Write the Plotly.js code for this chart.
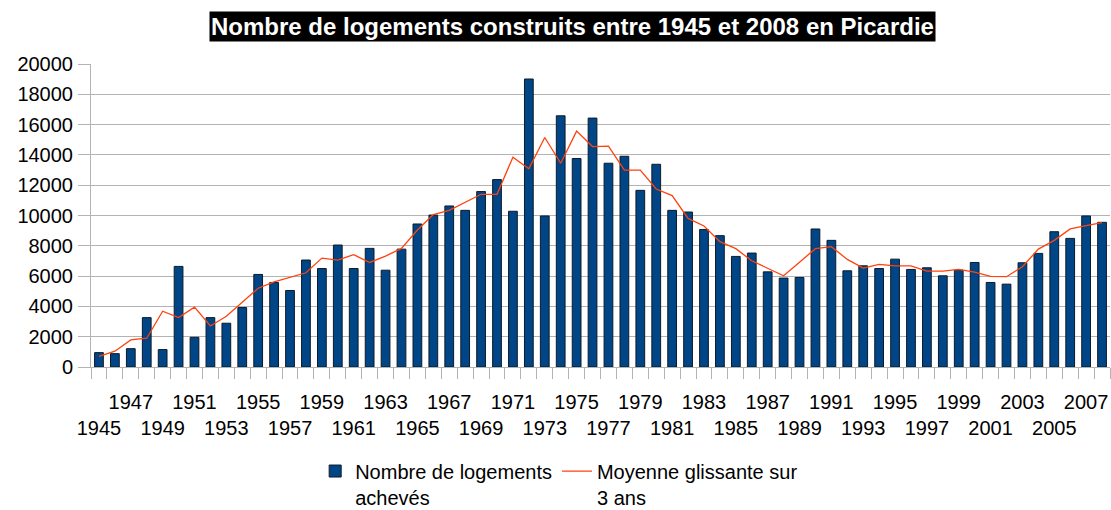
<!DOCTYPE html>
<html>
<head>
<meta charset="utf-8">
<script src="https://cdn.plot.ly/plotly-3.0.1.min.js"></script>
<style>
  html, body { margin: 0; padding: 0; background: #ffffff; }
  #chart { width: 1111px; height: 510px; }
</style>
</head>
<body>
<div id="chart"></div>
<script>
const years = [
  1945, 1946, 1947, 1948, 1949, 1950, 1951, 1952, 1953, 1954,
  1955, 1956, 1957, 1958, 1959, 1960, 1961, 1962, 1963, 1964,
  1965, 1966, 1967, 1968, 1969, 1970, 1971, 1972, 1973, 1974,
  1975, 1976, 1977, 1978, 1979, 1980, 1981, 1982, 1983, 1984,
  1985, 1986, 1987, 1988, 1989, 1990, 1991, 1992, 1993, 1994,
  1995, 1996, 1997, 1998, 1999, 2000, 2001, 2002, 2003, 2004,
  2005, 2006, 2007, 2008
];

const logementsAcheves = [
  950, 880, 1210, 3260, 1150, 6640, 1960, 3260, 2890, 3925,
  6110, 5580, 5050, 7060, 6500, 8050, 6500, 7830, 6390, 7780,
  9440, 10030, 10630, 10340, 11580, 12370, 10280, 19010, 9970, 16580,
  13760, 16430, 13450, 13910, 11660, 13380, 10340, 10230, 9080, 8670,
  7300, 7520, 6280, 5870, 5910, 9110, 8360, 6350, 6680, 6500,
  7120, 6440, 6550, 6020, 6390, 6900, 5580, 5470, 6880, 7500,
  8930, 8490, 9970, 9550
];

const moyenneGlissante = [
  700, 1040, 1790, 1900, 3680, 3260, 3950, 2710, 3350, 4260,
  5200, 5620, 5930, 6220, 7190, 7050, 7420, 6900, 7320, 7830,
  9040, 10060, 10340, 10850, 11400, 11400, 13850, 13080, 15150, 13450,
  15570, 14550, 14580, 12990, 12990, 11750, 11310, 9810, 9310, 8270,
  7810, 7010, 6530, 6020, 6920, 7810, 7940, 7100, 6530, 6770,
  6680, 6680, 6330, 6330, 6440, 6260, 5980, 5960, 6620, 7780,
  8360, 9110, 9330, 9530
];

// Tick labels: odd years, alternating on two rows
const upperRowLabels = [1947, 1951, 1955, 1959, 1963, 1967, 1971, 1975, 1979, 1983, 1987, 1991, 1995, 1999, 2003, 2007];
const lowerRowLabels = [1945, 1949, 1953, 1957, 1961, 1965, 1969, 1973, 1977, 1981, 1985, 1989, 1993, 1997, 2001, 2005];

const yTickVals = [0, 2000, 4000, 6000, 8000, 10000, 12000, 14000, 16000, 18000, 20000];

const titleText = 'Nombre de logements construits entre 1945 et 2008 en Picardie';
const barName = 'Nombre de logements<br>achevés';
const lineName = 'Moyenne glissante sur<br>3 ans';

const cats = years.map(String);
const tickText = years.map(y => {
  if (upperRowLabels.indexOf(y) >= 0) return String(y);
  if (lowerRowLabels.indexOf(y) >= 0) return '<br>' + y;
  return '';
});

const FONT = 'Liberation Sans, Arial, sans-serif';
const GRID = '#b3b3b3';

const traces = [
  {
    type: 'bar',
    name: barName,
    x: cats,
    y: logementsAcheves,
    marker: { color: '#004586', line: { color: '#0d1b2a', width: 1 } },
    hoverinfo: 'x+y'
  },
  {
    type: 'scatter',
    mode: 'lines',
    name: lineName,
    x: cats,
    y: moyenneGlissante,
    line: { color: '#ff420e', width: 1.3 },
    hoverinfo: 'x+y'
  }
];

const layout = {
  width: 1111,
  height: 510,
  margin: { l: 91, r: 1, t: 64, b: 143, autoexpand: false },
  paper_bgcolor: '#ffffff',
  plot_bgcolor: '#ffffff',
  font: { family: FONT, size: 20, color: '#000000' },
  bargap: 0.45,
  showlegend: true,
  xaxis: {
    type: 'category',
    categoryorder: 'array',
    categoryarray: cats,
    tickmode: 'array',
    tickvals: cats,
    ticktext: tickText,
    tickson: 'boundaries',
    ticks: 'outside',
    ticklen: 11,
    tickcolor: GRID,
    tickwidth: 1,
    showgrid: false,
    showline: true,
    linecolor: GRID,
    linewidth: 1,
    tickangle: 0,
    automargin: false,
    ticklabelstandoff: 17,
    tickfont: { family: FONT, size: 20, color: '#000000' },
    fixedrange: true
  },
  yaxis: {
    range: [0, 20000],
    tickmode: 'array',
    tickvals: yTickVals,
    ticktext: yTickVals.map(String),
    ticks: 'outside',
    ticklen: 12,
    tickcolor: GRID,
    tickwidth: 1,
    showgrid: true,
    gridcolor: GRID,
    gridwidth: 1,
    zeroline: false,
    showline: true,
    linecolor: GRID,
    linewidth: 1,
    automargin: false,
    ticklabelstandoff: 1,
    tickfont: { family: FONT, size: 20, color: '#000000' },
    fixedrange: true
  },
  legend: {
    orientation: 'h',
    x: 0.22,
    xanchor: 'left',
    y: -0.279,
    yanchor: 'top',
    valign: 'top',
    font: { family: FONT, size: 20, color: '#000000' },
    bgcolor: 'rgba(0,0,0,0)',
    itemclick: false,
    itemdoubleclick: false
  },
  annotations: [
    {
      text: '<b>' + titleText + '</b>',
      xref: 'paper',
      yref: 'paper',
      x: (572 - 91) / 1019,
      y: 1 + (64 - 26) / 303,
      xanchor: 'center',
      yanchor: 'middle',
      showarrow: false,
      bgcolor: '#000000',
      borderpad: 1,
      font: { family: FONT, size: 24, color: '#ffffff' }
    }
  ]
};

Plotly.newPlot('chart', traces, layout, { displayModeBar: false, staticPlot: false });
</script>
</body>
</html>
